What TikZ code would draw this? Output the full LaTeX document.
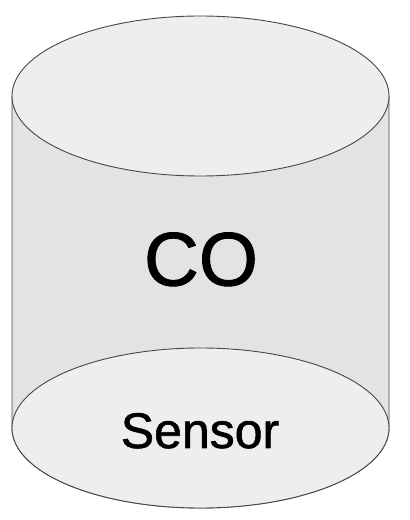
\documentclass[tikz,border=0pt]{standalone}
\usepackage{fontspec}
\setmainfont{Liberation Sans}[FakeBold=1.2]
\begin{document}
\begin{tikzpicture}[x=1pt,y=1pt,
  edge/.style={draw=black!72, line width=0.9pt},
  bodyfill/.style={fill=gray!22},
  capfill/.style={fill=gray!13}]
\useasboundingbox (0,0) rectangle (410,520);
\fill[white] (0,0) rectangle (410,520);
\path[edge, bodyfill] (12,424) -- (12,92) arc[start angle=180,end angle=360,x radius=188.5,y radius=80] -- (389,424) -- cycle;
\path[edge, capfill] (200.5,92) ellipse[x radius=188.5,y radius=80];
\path[edge, capfill] (200.5,424) ellipse[x radius=188.5,y radius=80];
\node[anchor=base, inner sep=0pt, font=\fontsize{76}{80}\selectfont] (co) at (201,234.5) {CO};
\node[anchor=base, inner sep=0pt, font=\fontsize{50}{54}\selectfont] (sensor) at (200,72) {Sensor};
\end{tikzpicture}
\end{document}
